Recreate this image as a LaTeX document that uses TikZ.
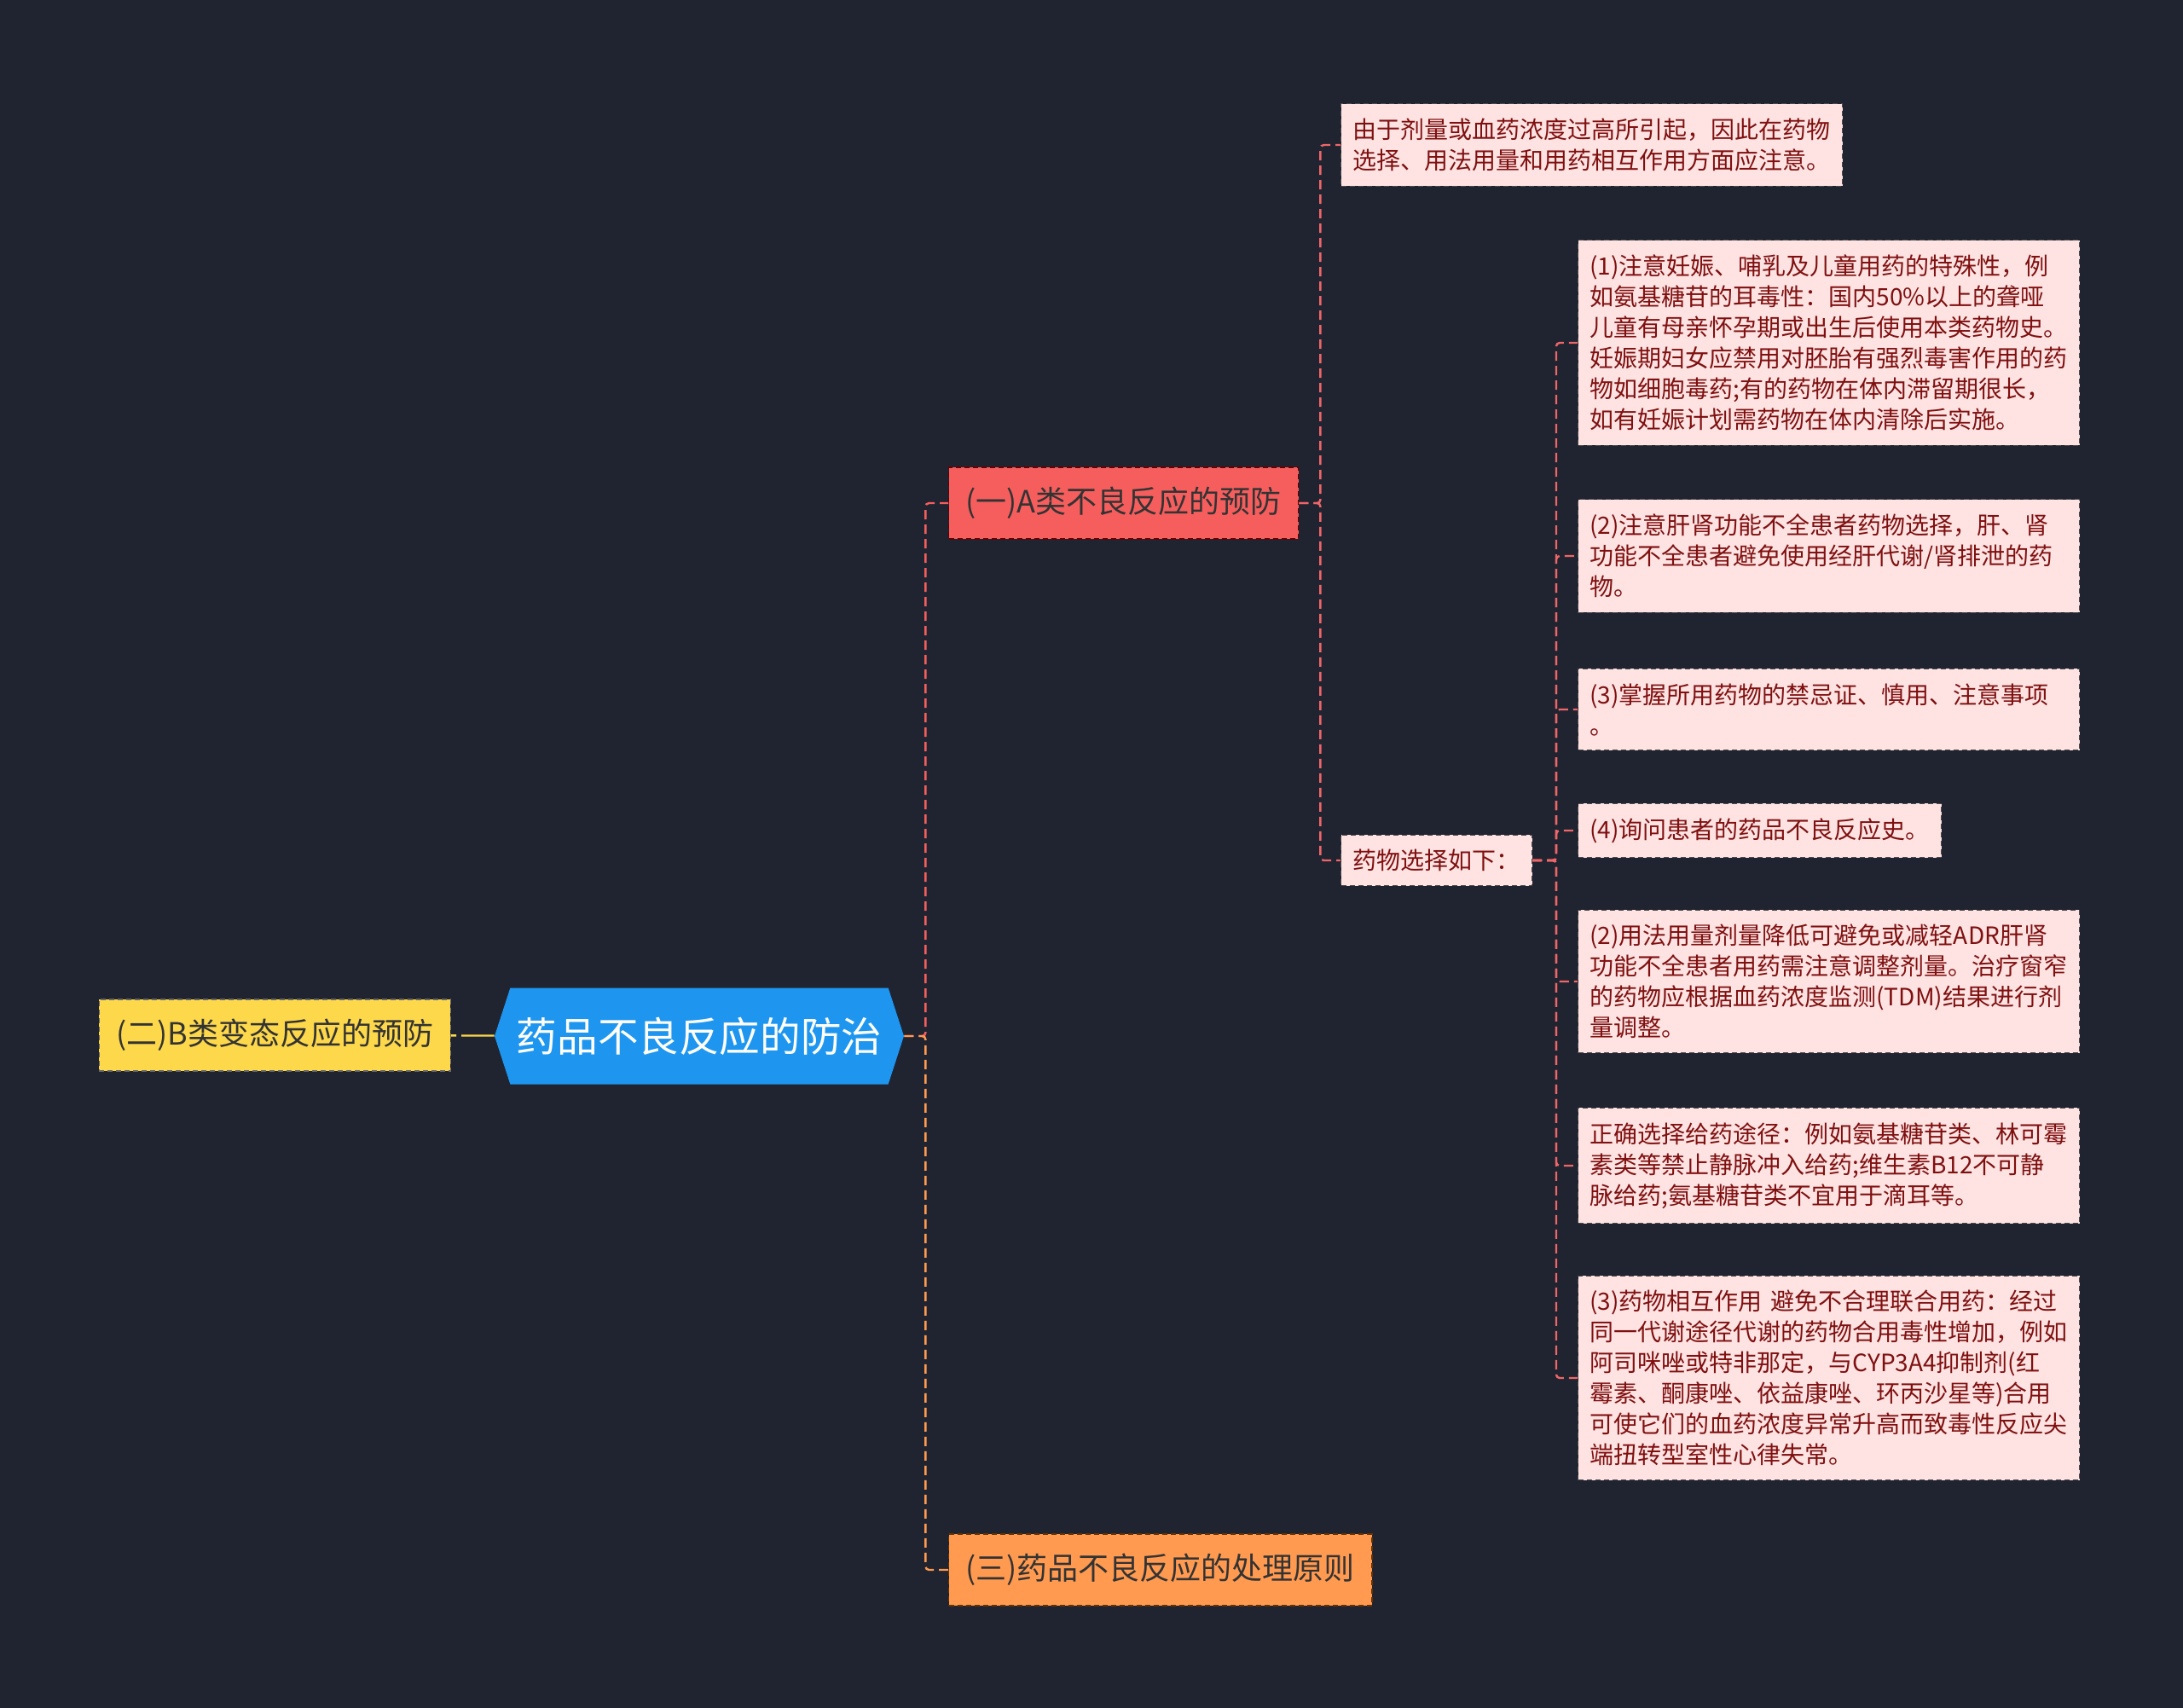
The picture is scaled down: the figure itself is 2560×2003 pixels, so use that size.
\documentclass[tikz,border=0pt]{standalone}
\usepackage{fontspec}
\usepackage{xcolor}
\usetikzlibrary{positioning,shapes.symbols}
\newfontfamily\cjk{Noto Sans CJK SC}
\definecolor{bgDark}{HTML}{202430}
\definecolor{rootBlue}{HTML}{1E96F0}
\definecolor{typeRed}{HTML}{F65E5E}
\definecolor{typeOrange}{HTML}{FF9A50}
\definecolor{typeYellow}{HTML}{FDD84B}
\definecolor{leafPink}{HTML}{FFE3E3}
\definecolor{leafText}{HTML}{7F1010}
\definecolor{linkPink}{HTML}{EE6668}

\begin{document}
\begin{tikzpicture}[
    x=0.5pt, y=-0.5pt,
    root/.style={signal, signal to=west and east, signal pointer angle=144, fill=rootBlue, text=white, minimum width=240pt, minimum height=56.5pt, inner sep=0pt, font=\cjk\fontsize{23.8pt}{28pt}\selectfont},
    topic/.style={draw, densely dashed, line width=0.6pt, minimum height=42pt, inner xsep=10pt, font=\cjk\fontsize{18pt}{22pt}\selectfont},
    leaf/.style={draw=black!70, densely dashed, line width=0.5pt, fill=leafPink, text=leafText, align=left, inner xsep=7pt, inner ysep=8.5pt, anchor=west, font=\cjk\fontsize{14pt}{18pt}\selectfont},
    wideleaf/.style={leaf, text width=280pt},
    link/.style={line width=1.2pt, dash pattern=on 5.5pt off 3pt, rounded corners=2pt}
  ]
    \fill[bgDark] (0,0) rectangle (2560,2003);

    \node[root] (root) at (820,1215) {药品不良反应的防治};
    \node[topic, fill=typeYellow, draw=black!60, text=black!80, anchor=east] (typeB) at (529,1214) {(二)B类变态反应的预防};
    \node[topic, fill=typeRed, draw=red!40!black, text=black!80, anchor=west] (typeA) at (1112,590) {(一)A类不良反应的预防};
    \node[topic, fill=typeOrange, draw=orange!40!black, text=black!80, anchor=west] (treat) at (1112,1841) {(三)药品不良反应的处理原则};

    \node[leaf] (cause) at (1572,170) {由于剂量或血药浓度过高所引起，因此在药物\\选择、用法用量和用药相互作用方面应注意。};
    \node[leaf] (choose) at (1572,1009) {药物选择如下：};

    \node[wideleaf] (p1) at (1850,402) {(1)注意妊娠、哺乳及儿童用药的特殊性，例\\如氨基糖苷的耳毒性：国内50\%以上的聋哑\\儿童有母亲怀孕期或出生后使用本类药物史。\\妊娠期妇女应禁用对胚胎有强烈毒害作用的药\\物如细胞毒药;有的药物在体内滞留期很长，\\如有妊娠计划需药物在体内清除后实施。};
    \node[wideleaf] (p2) at (1850,652) {(2)注意肝肾功能不全患者药物选择，肝、肾\\功能不全患者避免使用经肝代谢/肾排泄的药\\物。};
    \node[wideleaf] (p3) at (1850,832) {(3)掌握所用药物的禁忌证、慎用、注意事项\\。};
    \node[leaf] (p4) at (1850,974) {(4)询问患者的药品不良反应史。};
    \node[wideleaf] (p5) at (1850,1151) {(2)用法用量剂量降低可避免或减轻ADR肝肾\\功能不全患者用药需注意调整剂量。治疗窗窄\\的药物应根据血药浓度监测(TDM)结果进行剂\\量调整。};
    \node[wideleaf] (p6) at (1850,1367) {正确选择给药途径：例如氨基糖苷类、林可霉\\素类等禁止静脉冲入给药;维生素B12不可静\\脉给药;氨基糖苷类不宜用于滴耳等。};
    \node[wideleaf] (p7) at (1850,1616) {(3)药物相互作用 避免不合理联合用药：经过\\同一代谢途径代谢的药物合用毒性增加，例如\\阿司咪唑或特非那定，与CYP3A4抑制剂(红\\霉素、酮康唑、依益康唑、环丙沙星等)合用\\可使它们的血药浓度异常升高而致毒性反应尖\\端扭转型室性心律失常。};

    \draw[link, typeYellow, dash pattern=on 3pt off 3pt on 30pt off 3pt] (typeB) -- (root);
    \draw[link, typeRed] (root.east) -- ++(25,0) |- (typeA.west);
    \draw[link, typeOrange] (root.east) -- ++(25,0) |- (treat.west);
    \draw[link, linkPink] (typeA.east) -- ++(25,0) |- (cause.west);
    \draw[link, linkPink] (typeA.east) -- ++(25,0) |- (choose.west);
    \foreach \n in {p1,p2,p3,p4,p5,p6,p7}
      \draw[link, linkPink] (choose.east) -- ++(28,0) |- (\n.west);
  \end{tikzpicture}
\end{document}
